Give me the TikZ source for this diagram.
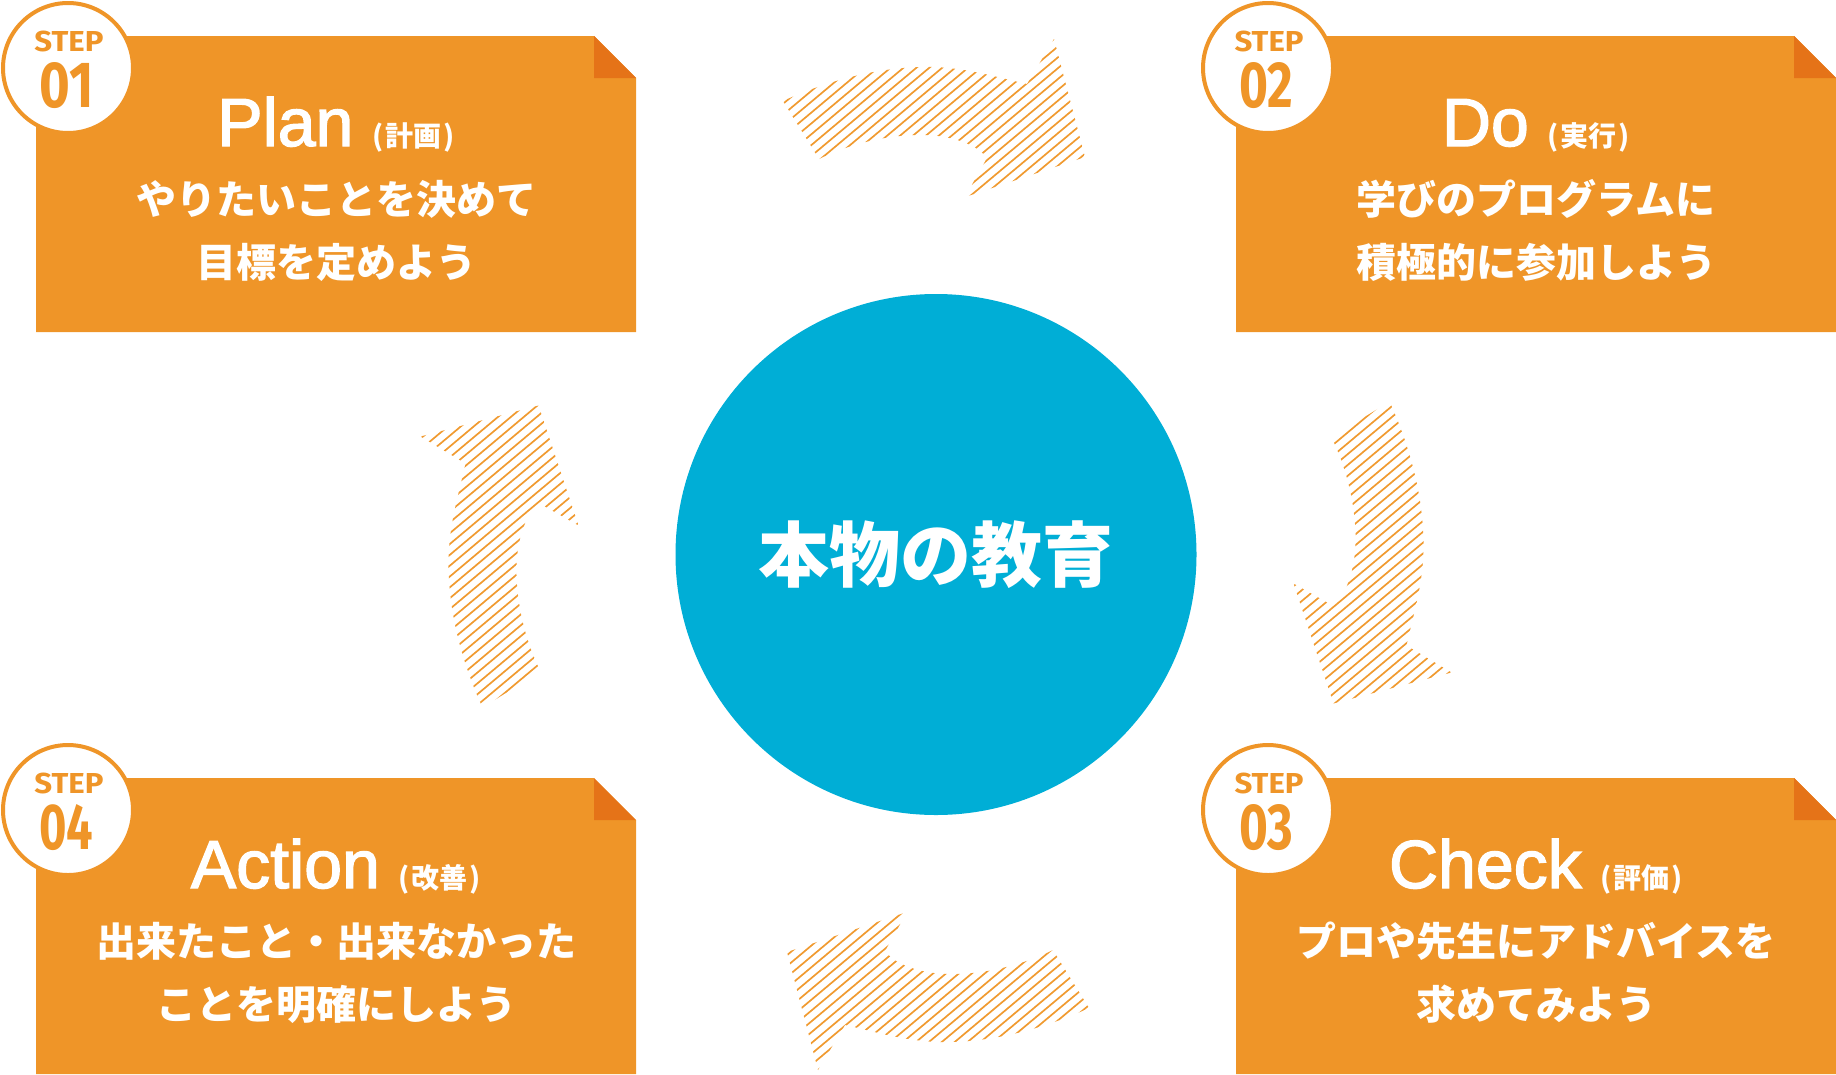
\documentclass[tikz,border=0pt]{standalone}
\usepackage{fontspec}
\usepackage{graphicx}
\newfontfamily\titlefont[FakeBold=2]{Liberation Sans}
\newfontfamily\jpfont{Noto Sans CJK JP}
\newfontfamily\stepfont{Fira Sans}
\definecolor{boxorange}{HTML}{EF9528}
\definecolor{folddark}{HTML}{E57318}
\definecolor{hatchorange}{HTML}{F09A30}
\definecolor{circblue}{HTML}{00AED6}
\tikzset{
  badge/.style={circle, draw=boxorange, line width=4pt, fill=white, minimum size=130pt, inner sep=0pt},
  steplbl/.style={text=boxorange, inner sep=0pt},
  hatch/.style={draw=hatchorange, line width=1.7pt},
  titletext/.style={text=white, anchor=base, inner sep=0pt},
  bodytext/.style={text=white, inner sep=0pt, font=\jpfont\bfseries\fontsize{40}{40}\selectfont},
}
% #1 x0, #2 y0, #3 name, #4 number, #5 title, #6 kanji, #7 line 1, #8 line 2
\newcommand\pdcabox[8]{%
  \fill[boxorange] ({#1},{#2}) -- ++(558,0) -- ++(42,42) -- ++(0,254) -- ++(-600,0) -- cycle;
  \fill[folddark] ({#1+558},{#2}) -- ++(42,42) -- ++(-42,0) -- cycle;
  \node[badge] (#3-badge) at ({#1+32},{#2+32}) {};
  \node[steplbl] (#3-step) at ({#1+33},{#2+5.7}) {\resizebox{69pt}{20.5pt}{\stepfont\bfseries STEP}};
  \node[steplbl] (#3-num) at ({#1+30.5},{#2+49.5}) {\resizebox{54pt}{45pt}{\stepfont\bfseries #4}};
  \node[titletext] (#3-title) at ({#1+300},{#2+110}) {\titlefont\fontsize{68}{68}\selectfont #5 {\jpfont\bfseries\fontsize{28}{28}\selectfont(\hspace{2pt}#6\hspace{2pt})}};
  \node[bodytext] (#3-l1) at ({#1+300},{#2+163}) {#7};
  \node[bodytext] (#3-l2) at ({#1+300},{#2+226}) {#8};
}
\begin{document}
\begin{tikzpicture}[x=1pt, y=-1pt]
\useasboundingbox (0,0) rectangle (1836,1074);
\coordinate (C) at (936,554.5);

% hatched curved arrows (same shape, rotated about the centre)
\foreach \ang in {0,-90,-180,-270}{
  \begin{scope}
    \clip[rotate around={\ang:(C)}] (783,101) .. controls (820,84) and (870,68) .. (922,67)
      .. controls (962,66) and (995,77) .. (1027,84) -- (1054,39) -- (1085,157) -- (965,197)
      -- (987,158) .. controls (975,142) and (945,134) .. (915,135)
      .. controls (880,136) and (845,146) .. (819,159) -- cycle;
    \path[rotate around={\ang:(C)}] (934,118) coordinate (ac);
    \begin{scope}[shift={(ac)}, rotate=40]
      \foreach \k in {-24,...,24} \draw[hatch] (-220,{\k*8.3}) -- (220,{\k*8.3});
    \end{scope}
  \end{scope}
}

% central circle
\node[circle, fill=circblue, minimum size=521pt, inner sep=0pt, text=white,
      font=\jpfont\bfseries\fontsize{71}{71}\selectfont] (core) at (C) {本物の教育};

\pdcabox{36}{36}{plan}{01}{Plan}{計画}{やりたいことを決めて}{目標を定めよう}
\pdcabox{1236}{36}{do}{02}{Do}{実行}{学びのプログラムに}{積極的に参加しよう}
\pdcabox{1236}{778}{check}{03}{Check}{評価}{プロや先生にアドバイスを}{求めてみよう}
\pdcabox{36}{778}{action}{04}{Action}{改善}{出来たこと・出来なかった}{ことを明確にしよう}
\end{tikzpicture}
\end{document}
